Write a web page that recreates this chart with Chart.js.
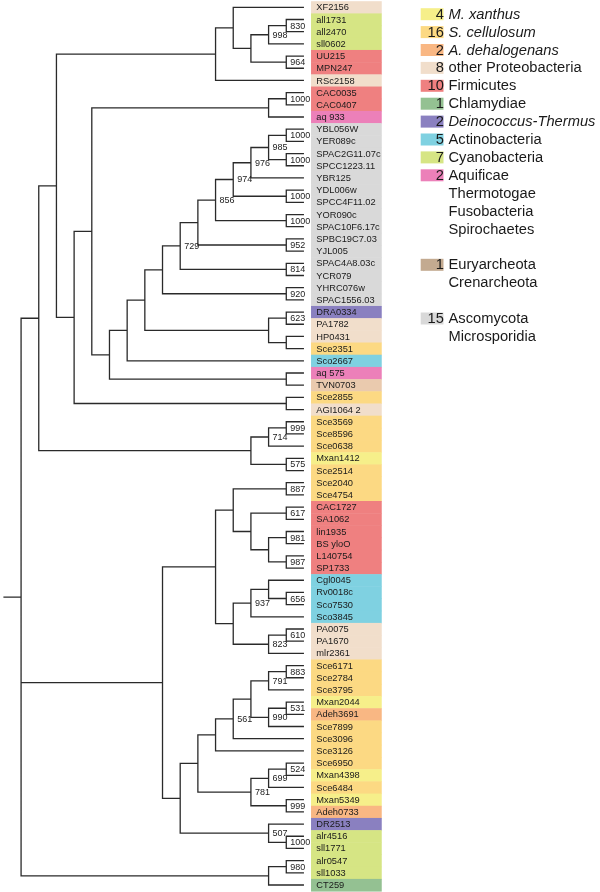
<!DOCTYPE html>
<html>
<head>
<meta charset="utf-8">
<script src="https://cdn.jsdelivr.net/npm/chart.js@4.4.1/dist/chart.umd.min.js"></script>
<style>
  body { margin: 0; background: #fff; }
  canvas { display: block; }
</style>
</head>
<body>
<canvas id="canvasTree" width="600" height="892"></canvas>
<script>
// leaves, top to bottom
var leafNames = [
  "XF2156", "all1731", "all2470", "sll0602", "UU215", "MPN247", "RSc2158",
  "CAC0035", "CAC0407", "aq 933",
  "YBL056W", "YER089c", "SPAC2G11.07c", "SPCC1223.11", "YBR125", "YDL006w",
  "SPCC4F11.02", "YOR090c", "SPAC10F6.17c", "SPBC19C7.03", "YJL005",
  "SPAC4A8.03c", "YCR079", "YHRC076w", "SPAC1556.03",
  "DRA0334", "PA1782", "HP0431", "Sce2351", "Sco2667", "aq 575", "TVN0703",
  "Sce2855", "AGI1064 2",
  "Sce3569", "Sce8596", "Sce0638", "Mxan1412", "Sce2514", "Sce2040", "Sce4754",
  "CAC1727", "SA1062", "lin1935", "BS yloO", "L140754", "SP1733",
  "Cgl0045", "Rv0018c", "Sco7530", "Sco3845", "PA0075", "PA1670", "mlr2361",
  "Sce6171", "Sce2784", "Sce3795", "Mxan2044", "Adeh3691", "Sce7899", "Sce3096",
  "Sce3126", "Sce6950", "Mxan4398", "Sce6484", "Mxan5349", "Adeh0733",
  "DR2513", "alr4516", "sll1771", "alr0547", "sll1033", "CT259"
];

// taxon group of every leaf (same order)
var leafGroup = [
  "op", "cy", "cy", "cy", "fi", "fi", "op",
  "fi", "fi", "aq",
  "as", "as", "as", "as", "as", "as",
  "as", "as", "as", "as", "as",
  "as", "as", "as", "as",
  "dt", "op", "op", "sc", "ac", "aq", "eu",
  "sc", "op",
  "sc", "sc", "sc", "mx", "sc", "sc", "sc",
  "fi", "fi", "fi", "fi", "fi", "fi",
  "ac", "ac", "ac", "ac", "op", "op", "op",
  "sc", "sc", "sc", "mx", "ad", "sc", "sc",
  "sc", "sc", "mx", "sc", "mx", "ad",
  "dt", "cy", "cy", "cy", "cy", "ch"
];

// tree topology in newick: (children)bootstrap:column, tips sit in column 17
// "#" is replaced by the clade built so far
var upperParts = [
  "(((YBL056W,YER089c)1000:16,(SPAC2G11.07c,SPCC1223.11)1000:16)985:15,YBR125)976:14",
  "(#,(YDL006w,SPCC4F11.02)1000:16)974:13",
  "(#,(YOR090c,SPAC10F6.17c)1000:16)856:12",
  "(#,(SPBC19C7.03,YJL005)952:16):11",
  "(#,(SPAC4A8.03c,YCR079)814:16)729:10",
  "(#,(YHRC076w,SPAC1556.03)920:16):9",
  "(#,((DRA0334,PA1782)623:16,(HP0431,Sce2351):16):15):8",
  "(#,Sco2667):7",
  "(#,(aq 575,TVN0703):16):6",
  "(((CAC0035,CAC0407)1000:16,aq 933):15,#):5",
  "(#,(Sce2855,AGI1064 2):16):4",
  "(((XF2156,(((all1731,all2470)830:16,sll0602)998:15,(UU215,MPN247)964:16):14):13,RSc2158):12,#):3",
  "(#,(((Sce3569,Sce8596)999:16,Sce0638)714:15,(Mxan1412,Sce2514)575:16):14):2"
];
var lowerParts = [
  "(((Sce6171,Sce2784)883:16,Sce3795)791:15,((Mxan2044,Adeh3691)531:16,Sce7899)990:15):14",
  "(#,Sce3096)561:13",
  "(#,Sce3126):12",
  "(#,(((Sce6950,Mxan4398)524:16,Sce6484)699:15,(Mxan5349,Adeh0733)999:16)781:14):11",
  "(#,(DR2513,(alr4516,sll1771)1000:16)507:15):10",
  "(((Sce2040,Sce4754)887:16,((CAC1727,SA1062)617:16,((lin1935,BS yloO)981:16,(L140754,SP1733)987:16):15):14):13," +
    "(((Cgl0045,(Rv0018c,Sco7530)656:16):15,Sco3845)937:14,((PA0075,PA1670)610:16,mlr2361)823:15):13):12"
];
var outgroupClade = "((alr0547,sll1033)980:16,CT259):15";

// legend
var groupCodes = ["mx", "sc", "ad", "op", "fi", "ch", "dt", "ac", "cy", "aq", "eu", "as"];
var groupNames = [
  "M. xanthus", "S. cellulosum", "A. dehalogenans", "other Proteobacteria",
  "Firmicutes", "Chlamydiae", "Deinococcus-Thermus", "Actinobacteria",
  "Cyanobacteria", "Aquificae\nThermotogae\nFusobacteria\nSpirochaetes",
  "Euryarcheota\nCrenarcheota", "Ascomycota\nMicrosporidia"
];
var groupItalic = [true, true, true, false, false, false, true, false, false, false, false, false];
var bandColors = [
  "#f6ef8a", "#fcd983", "#f9b783", "#f1decb", "#ef8080", "#94c192",
  "#8a80c0", "#7fd1e1", "#d6e584", "#ec80b9", "#eacaae", "#d9d9d9"
];
var swatchColors = [
  "#f6ef8a", "#fcd983", "#f9b783", "#f1decb", "#ef8080", "#94c192",
  "#8a80c0", "#7fd1e1", "#d6e584", "#ec80b9", "#c3aa90", "#d9d9d9"
];

var TIP_COL = 17;
var FONT = "'Liberation Sans', Arial, sans-serif";

function buildChain(parts) {
  var s = parts[0];
  for (var p = 1; p < parts.length; p++) {
    s = parts[p].replace("#", s);
  }
  return s;
}

// the root (column 1) joins three clades
var lowerClade = buildChain(lowerParts.slice(0, 5));
var newick = "(" + buildChain(upperParts) + ",(" + lowerParts[5] + "," + lowerClade + "):9," +
  outgroupClade + "):1";

function parseNewick(s) {
  var i = 0;
  var leafIdx = 0;
  function readNode() {
    if (s[i] == "(") {
      i++;
      var kids = [readNode()];
      while (s[i] == ",") {
        i++;
        kids.push(readNode());
      }
      if (s[i] != ")") console.log("bad newick at " + i);
      i++;
      var label = "";
      while (s[i] != ":") label += s[i++];
      i++;
      var col = "";
      while (i < s.length && /[0-9.]/.test(s[i])) col += s[i++];
      var y = (kids[0].y + kids[kids.length - 1].y) / 2;
      return { kids: kids, label: label, col: +col, y: y };
    }
    var name = "";
    while (i < s.length && ",()".indexOf(s[i]) < 0) name += s[i++];
    if (name != leafNames[leafIdx]) console.log("leaf mismatch " + name);
    return { name: name, col: TIP_COL, y: leafIdx++ };
  }
  return readNode();
}

var root = parseNewick(newick);

// collect branch polylines, split by nulls
var treePoints = [];
var bootLabels = [];
function addBranches(node) {
  if (!node.kids) return;
  var first = node.kids[0];
  var last = node.kids[node.kids.length - 1];
  treePoints.push({ x: first.col, y: first.y }, { x: node.col, y: first.y },
    { x: node.col, y: last.y }, { x: last.col, y: last.y }, { x: null, y: null });
  for (var k = 1; k < node.kids.length - 1; k++) {
    treePoints.push({ x: node.col, y: node.kids[k].y }, { x: node.kids[k].col, y: node.kids[k].y },
      { x: null, y: null });
  }
  if (node.label) bootLabels.push({ col: node.col, y: node.y, text: node.label });
  for (var k = 0; k < node.kids.length; k++) addBranches(node.kids[k]);
}
// root stub
treePoints.push({ x: 0, y: root.y }, { x: root.col, y: root.y }, { x: null, y: null });
addBranches(root);

var treePlugin = {
  id: "treeDecor",
  beforeDatasetsDraw: function(chart) {
    var ctx = chart.ctx;
    var xs = chart.scales.x;
    var ys = chart.scales.y;
    var x0 = xs.getPixelForValue(17.4);
    var x1 = xs.getPixelForValue(21.4);
    ctx.save();
    for (var i = 0; i < leafNames.length; i++) {
      var yTop = ys.getPixelForValue(i - 0.5);
      var yBot = ys.getPixelForValue(i + 0.5);
      ctx.fillStyle = bandColors[groupCodes.indexOf(leafGroup[i])];
      ctx.fillRect(x0, Math.min(yTop, yBot), x1 - x0, Math.abs(yBot - yTop) + 0.5);
    }
    ctx.restore();
  },
  afterDatasetsDraw: function(chart) {
    var ctx = chart.ctx;
    var xs = chart.scales.x;
    var ys = chart.scales.y;
    ctx.save();
    ctx.textBaseline = "middle";
    ctx.textAlign = "left";

    // leaf names
    ctx.fillStyle = "#1a1a1a";
    ctx.font = "9.3px " + FONT;
    var tx = xs.getPixelForValue(17.7);
    for (var i = 0; i < leafNames.length; i++) {
      ctx.fillText(leafNames[i], tx, ys.getPixelForValue(i) + 0.5);
    }

    // bootstrap values
    ctx.fillStyle = "#222";
    ctx.font = "9px " + FONT;
    for (var b = 0; b < bootLabels.length; b++) {
      var lb = bootLabels[b];
      ctx.fillText(lb.text, xs.getPixelForValue(lb.col) + 4, ys.getPixelForValue(lb.y) + 0.5);
    }

    // legend
    var row = 0;
    var rowH = 17.9;
    for (var g = 0; g < groupCodes.length; g++) {
      var cy = 14.2 + row * rowH;
      var count = leafGroup.filter(function(c) { return c == groupCodes[g]; }).length;
      ctx.fillStyle = swatchColors[g];
      ctx.fillRect(420.7, cy - 6, 22.8, 12);
      ctx.fillStyle = "#1a1a1a";
      ctx.font = "14.7px " + FONT;
      ctx.textAlign = "right";
      ctx.fillText(String(count), 443.8, cy + 0.5);
      ctx.textAlign = "left";
      ctx.font = (groupItalic[g] ? "italic " : "") + "14.7px " + FONT;
      var lines = groupNames[g].split("\n");
      for (var l = 0; l < lines.length; l++) {
        ctx.fillText(lines[l], 448.5, cy + l * rowH + 0.5);
      }
      row += lines.length + (lines.length > 1 ? 1 : 0);
    }
    ctx.restore();
  }
};

var treeChart = new Chart(document.getElementById("canvasTree"), {
  type: "scatter",
  data: {
    datasets: [{
      data: treePoints,
      showLine: true,
      spanGaps: false,
      borderColor: "#2a2a2a",
      borderWidth: 1.3,
      pointRadius: 0,
      pointHoverRadius: 0,
      fill: false,
      tension: 0
    }]
  },
  options: {
    responsive: false,
    animation: false,
    devicePixelRatio: 1,
    layout: { padding: 0 },
    scales: {
      x: { type: "linear", display: false, min: -0.1923, max: 33.745 },
      y: { type: "linear", display: false, reverse: true, min: -0.599, max: 72.575 }
    },
    plugins: {
      legend: { display: false },
      tooltip: { enabled: false }
    }
  },
  plugins: [treePlugin]
});
</script>
</body>
</html>
